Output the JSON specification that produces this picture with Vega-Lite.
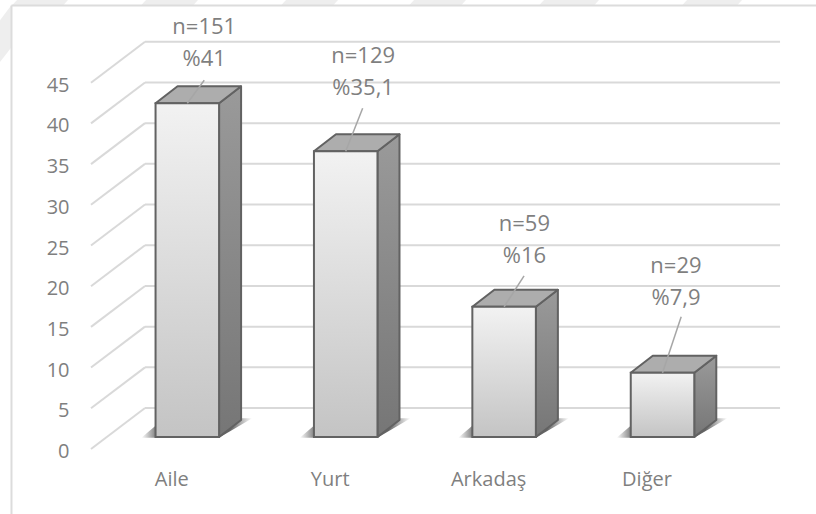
{
  "$schema": "https://vega.github.io/schema/vega-lite/v6.json",
  "width": 816,
  "height": 514,
  "padding": 0,
  "autosize": {"type": "none"},
  "background": "#ffffff",
  "config": {
    "view": {"stroke": null},
    "axis": {"grid": false, "ticks": false, "domain": false, "title": null, "labelFont": "Open Sans", "labelFontSize": 20, "labelColor": "#7f7f7f", "labelPadding": 0, "labelBound": false, "labelFlush": false, "labelOverlap": false}
  },
  "datasets": {
    "barlar": [
      {"kategori": "Aile", "deger": 41, "n": 151},
      {"kategori": "Yurt", "deger": 35.1, "n": 129},
      {"kategori": "Arkadaş", "deger": 16, "n": 59},
      {"kategori": "Diğer", "deger": 7.9, "n": 29}
    ],
    "olcek": [
      {"cizgi": 0}, {"cizgi": 5}, {"cizgi": 10}, {"cizgi": 15}, {"cizgi": 20},
      {"cizgi": 25}, {"cizgi": 30}, {"cizgi": 35}, {"cizgi": 40}, {"cizgi": 45}
    ],
    "filigran": [{"parca": 0}, {"parca": 1}, {"parca": 2}, {"parca": 3}, {"parca": 4}, {"parca": 5}]
  },
  "layer": [
    {
      "data": {"name": "filigran"},
      "transform": [
        {"calculate": "[0,1]", "as": "k"},
        {"flatten": ["k"]},
        {"calculate": "[-1.1067,-0.2923,0.5915,1.4,2.2203,3.1231][datum.parca] + 0.0316 * datum.k", "as": "sol"},
        {"calculate": "[-0.7848,0.0359,0.9198,1.7278,2.5675,3.4703][datum.parca] + 0.0316 * datum.k", "as": "sag"},
        {"calculate": "53 + 0.69 * datum.k", "as": "yuks"}
      ],
      "mark": {"type": "area", "orient": "horizontal", "fill": "#eeeeee"},
      "encoding": {
        "detail": {"field": "parca"},
        "y": {
          "field": "yuks",
          "type": "quantitative",
          "scale": {"domain": [-9.46, 53.69], "nice": false, "zero": false},
          "axis": {"orient": "left", "title": null, "offset": -69, "labelOffset": 14.5, "values": [0, 5, 10, 15, 20, 25, 30, 35, 40, 45]}
        },
        "x": {
          "field": "sol",
          "type": "quantitative",
          "scale": {"domain": [-1.1825, 3.969], "nice": false, "zero": false},
          "axis": {"orient": "bottom", "title": null, "offset": -45, "labelOffset": -16, "values": [0, 1, 2, 3], "labelExpr": "['Aile','Yurt','Arkadaş','Diğer'][datum.value]"}
        },
        "x2": {"field": "sag"}
      }
    },
    {
      "data": {"values": [{"kose": 0}, {"kose": 1}]},
      "transform": [
        {"calculate": "-1.1825 + 0.0725 * datum.kose", "as": "konum"},
        {"calculate": "46.07 + 1.83 * datum.kose", "as": "alt"},
        {"calculate": "51.2 + 1.87 * datum.kose", "as": "ust"}
      ],
      "mark": {"type": "area", "fill": "#eeeeee"},
      "encoding": {
        "x": {"field": "konum", "type": "quantitative"},
        "y": {"field": "ust", "type": "quantitative"},
        "y2": {"field": "alt"}
      }
    },
    {
      "data": {"values": [{"kenar": "sol"}]},
      "mark": {"type": "rule", "color": "#dcdcdc", "strokeWidth": 2},
      "encoding": {
        "x": {"datum": -1.11, "type": "quantitative"},
        "y": {"datum": 53.0, "type": "quantitative"},
        "y2": {"datum": -9.46}
      }
    },
    {
      "data": {"values": [{"kenar": "ust"}]},
      "mark": {"type": "rule", "color": "#dcdcdc", "strokeWidth": 2},
      "encoding": {
        "x": {"datum": -1.11, "type": "quantitative"},
        "x2": {"datum": 3.969},
        "y": {"datum": 53.0, "type": "quantitative"}
      }
    },
    {
      "data": {"name": "olcek"},
      "transform": [{"calculate": "datum.cizgi + 3.56", "as": "arka"}],
      "mark": {"type": "rule", "color": "#d9d9d9", "strokeWidth": 2},
      "encoding": {
        "x": {"datum": -0.267, "type": "quantitative"},
        "x2": {"datum": 3.742},
        "y": {"field": "arka", "type": "quantitative"}
      }
    },
    {
      "data": {"name": "olcek"},
      "transform": [{"calculate": "datum.cizgi + 3.56", "as": "arka"}, {"calculate": "datum.cizgi - 1.47", "as": "on"}],
      "mark": {"type": "rule", "color": "#d9d9d9", "strokeWidth": 2},
      "encoding": {
        "x": {"datum": -0.608, "type": "quantitative"},
        "x2": {"datum": -0.267},
        "y": {"field": "on", "type": "quantitative"},
        "y2": {"field": "arka"}
      }
    },
    {
      "data": {"name": "barlar"},
      "transform": [
        {"calculate": "indexof(['Aile','Yurt','Arkadaş','Diğer'], datum.kategori)", "as": "sira"},
        {"calculate": "[0,1]", "as": "k"},
        {"flatten": ["k"]},
        {"calculate": "datum.sira - 0.29 + 0.145 * datum.k", "as": "sol"},
        {"calculate": "datum.sira + 0.2 + 0.21 * datum.k", "as": "sag"},
        {"calculate": "-0.1 + 2.4 * datum.k", "as": "taban"}
      ],
      "mark": {
        "type": "area",
        "orient": "horizontal",
        "fill": {"gradient": "linear", "x1": 0, "y1": 0, "x2": 1, "y2": 0, "stops": [
          {"offset": 0, "color": "#ffffff"},
          {"offset": 0.16, "color": "#666666"},
          {"offset": 0.8, "color": "#666666"},
          {"offset": 1, "color": "#ffffff"}
        ]}
      },
      "encoding": {
        "detail": {"field": "kategori"},
        "y": {"field": "taban", "type": "quantitative"},
        "x": {"field": "sol", "type": "quantitative"},
        "x2": {"field": "sag"}
      }
    },
    {
      "data": {"name": "barlar"},
      "transform": [
        {"calculate": "indexof(['Aile','Yurt','Arkadaş','Diğer'], datum.kategori)", "as": "sira"},
        {"calculate": "[0,1]", "as": "k"},
        {"flatten": ["k"]},
        {"calculate": "datum.sira + 0.2005 + 0.139 * datum.k", "as": "konum"},
        {"calculate": "2.09 * datum.k", "as": "alt"},
        {"calculate": "datum.deger + 2.09 * datum.k", "as": "ust"}
      ],
      "mark": {
        "type": "area",
        "stroke": "#626262",
        "strokeWidth": 2,
        "strokeJoin": "round",
        "fill": {"gradient": "linear", "x1": 0, "y1": 0, "x2": 0, "y2": 1, "stops": [
          {"offset": 0, "color": "#9a9a9a"},
          {"offset": 1, "color": "#767676"}
        ]}
      },
      "encoding": {
        "detail": {"field": "kategori"},
        "x": {"field": "konum", "type": "quantitative"},
        "y": {"field": "ust", "type": "quantitative"},
        "y2": {"field": "alt"}
      }
    },
    {
      "data": {"name": "barlar"},
      "transform": [
        {"calculate": "indexof(['Aile','Yurt','Arkadaş','Diğer'], datum.kategori)", "as": "sira"},
        {"calculate": "[0,1]", "as": "k"},
        {"flatten": ["k"]},
        {"calculate": "datum.sira - 0.2005 + 0.139 * datum.k", "as": "sol"},
        {"calculate": "datum.sira + 0.2005 + 0.139 * datum.k", "as": "sag"},
        {"calculate": "datum.deger + 2.09 * datum.k", "as": "ust"}
      ],
      "mark": {"type": "area", "orient": "horizontal", "fill": "#adadad", "stroke": "#626262", "strokeWidth": 2, "strokeJoin": "round"},
      "encoding": {
        "detail": {"field": "kategori"},
        "y": {"field": "ust", "type": "quantitative"},
        "x": {"field": "sol", "type": "quantitative"},
        "x2": {"field": "sag"}
      }
    },
    {
      "data": {"name": "barlar"},
      "transform": [
        {"calculate": "indexof(['Aile','Yurt','Arkadaş','Diğer'], datum.kategori)", "as": "sira"},
        {"calculate": "datum.sira - 0.2005", "as": "sol"},
        {"calculate": "datum.sira + 0.2005", "as": "sag"}
      ],
      "mark": {
        "type": "rect",
        "stroke": "#626262",
        "strokeWidth": 2,
        "fill": {"gradient": "linear", "x1": 0, "y1": 0, "x2": 0, "y2": 1, "stops": [
          {"offset": 0, "color": "#f2f2f2"},
          {"offset": 1, "color": "#c4c4c4"}
        ]}
      },
      "encoding": {
        "x": {"field": "sol", "type": "quantitative"},
        "x2": {"field": "sag"},
        "y": {"field": "deger", "type": "quantitative"},
        "y2": {"datum": 0}
      }
    },
    {
      "data": {"name": "barlar"},
      "transform": [
        {"calculate": "indexof(['Aile','Yurt','Arkadaş','Diğer'], datum.kategori)", "as": "sira"},
        {"calculate": "datum.sira + [0.107, 0.107, 0.126, 0.118][datum.sira]", "as": "uc"},
        {"calculate": "datum.deger + [2.83, 5.28, 3.8, 6.88][datum.sira]", "as": "ucY"}
      ],
      "mark": {"type": "rule", "color": "#a6a6a6", "strokeWidth": 1.5},
      "encoding": {
        "x": {"field": "sira", "type": "quantitative"},
        "x2": {"field": "uc"},
        "y": {"field": "deger", "type": "quantitative"},
        "y2": {"field": "ucY"}
      }
    },
    {
      "data": {"name": "barlar"},
      "transform": [
        {"calculate": "indexof(['Aile','Yurt','Arkadaş','Diğer'], datum.kategori)", "as": "sira"},
        {"calculate": "datum.sira + [0.107, 0.11, 0.128, 0.085][datum.sira]", "as": "etiketX"},
        {"calculate": "datum.deger + [9.4, 11.7, 10.2, 13.1][datum.sira]", "as": "etiketY"},
        {"calculate": "'n=' + datum.n", "as": "etiket"}
      ],
      "mark": {"type": "text", "font": "Open Sans", "fontSize": 22, "color": "#7f7f7f", "baseline": "middle", "align": "center"},
      "encoding": {
        "x": {"field": "etiketX", "type": "quantitative"},
        "y": {"field": "etiketY", "type": "quantitative"},
        "text": {"field": "etiket"}
      }
    },
    {
      "data": {"name": "barlar"},
      "transform": [
        {"calculate": "indexof(['Aile','Yurt','Arkadaş','Diğer'], datum.kategori)", "as": "sira"},
        {"calculate": "datum.sira + [0.107, 0.11, 0.128, 0.085][datum.sira]", "as": "etiketX"},
        {"calculate": "datum.deger + [5.4, 7.8, 6.2, 9.2][datum.sira]", "as": "etiketY"},
        {"calculate": "'%' + replace('' + datum.deger, '.', ',')", "as": "etiket"}
      ],
      "mark": {"type": "text", "font": "Open Sans", "fontSize": 22, "color": "#7f7f7f", "baseline": "middle", "align": "center"},
      "encoding": {
        "x": {"field": "etiketX", "type": "quantitative"},
        "y": {"field": "etiketY", "type": "quantitative"},
        "text": {"field": "etiket"}
      }
    }
  ]
}
